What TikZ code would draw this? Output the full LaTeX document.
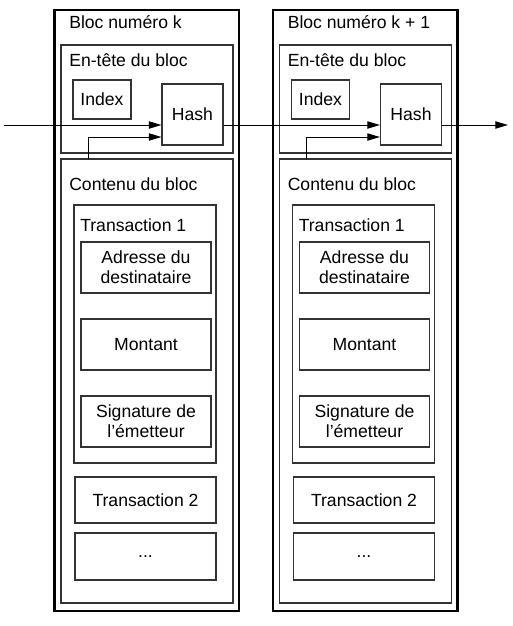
\documentclass[tikz,border=0pt]{standalone}
\usepackage{fontspec}
\setmainfont{Liberation Sans}
\usetikzlibrary{arrows.meta,calc}
\tikzset{
  blockbox/.style={draw=black, line width=1.8pt, minimum width=184.5*0.75pt, minimum height=601*0.75pt, inner sep=0pt},
  panel/.style={draw=black!80, line width=0.8pt, fill=white, inner sep=0pt},
  txtbox/.style={panel, align=center, font=\fontsize{13.2}{15}\selectfont},
  caption/.style={anchor=west, inner sep=0pt, font=\fontsize{13.2}{15}\selectfont},
  link/.style={draw=black, line width=0.75pt, -{Triangle[length=9.5pt,width=5.5pt]}},
}
\begin{document}
\begin{tikzpicture}[x=0.75pt,y=-0.75pt]
\useasboundingbox (0,0) rectangle (513,626);
\foreach \i/\dx/\k in {1/0/k, 2/218.5/k + 1}{
\begin{scope}[shift={(\dx,0)}]
  \node[blockbox] (blk\i) at (146.75,310.5) {};
  \node[caption] (blkl\i) at (69,22) {Bloc numéro \k};
  \node[panel, minimum width=172*0.75pt, minimum height=108*0.75pt] (head\i) at (147,99) {};
  \node[caption] (headl\i) at (69,60) {En-tête du bloc};
  \node[txtbox, minimum width=58*0.75pt, minimum height=39*0.75pt] (idx\i) at (102,99.5) {Index};
  \node[txtbox, minimum width=61*0.75pt, minimum height=61*0.75pt] (hash\i) at (192.5,114.5) {Hash};
  \node[panel, minimum width=172*0.75pt, minimum height=444*0.75pt] (cont\i) at (147,381) {};
  \node[caption] (contl\i) at (69,184) {Contenu du bloc};
  \node[panel, minimum width=142*0.75pt, minimum height=258*0.75pt] (tx\i) at (145,334) {};
  \node[caption] (txl\i) at (80,225) {Transaction 1};
  \node[txtbox, minimum width=130*0.75pt, minimum height=51*0.75pt] (addr\i) at (146,267.5) {Adresse du\\destinataire};
  \node[txtbox, minimum width=130*0.75pt, minimum height=51*0.75pt] (mont\i) at (146,344.5) {Montant};
  \node[txtbox, minimum width=130*0.75pt, minimum height=51*0.75pt] (sig\i) at (146,421.5) {Signature de\\l’émetteur};
  \node[txtbox, minimum width=141*0.75pt, minimum height=46*0.75pt] (txb\i) at (145.5,500) {Transaction 2};
  \node[txtbox, minimum width=141*0.75pt, minimum height=47*0.75pt] (dots\i) at (145.5,556.5) {...};
  \coordinate (cin\i) at (88,159);
  \draw[link] (cin\i) |- ($(hash\i.west)+(0,22.5)$);
\end{scope}
}
\coordinate (start) at (4,125);
\coordinate (finish) at (508,125);
\draw[link] (start) -- (start -| hash1.west);
\draw[link] (start -| hash1.east) -- (start -| hash2.west);
\draw[link] (start -| hash2.east) -- (finish);
\end{tikzpicture}
\end{document}
